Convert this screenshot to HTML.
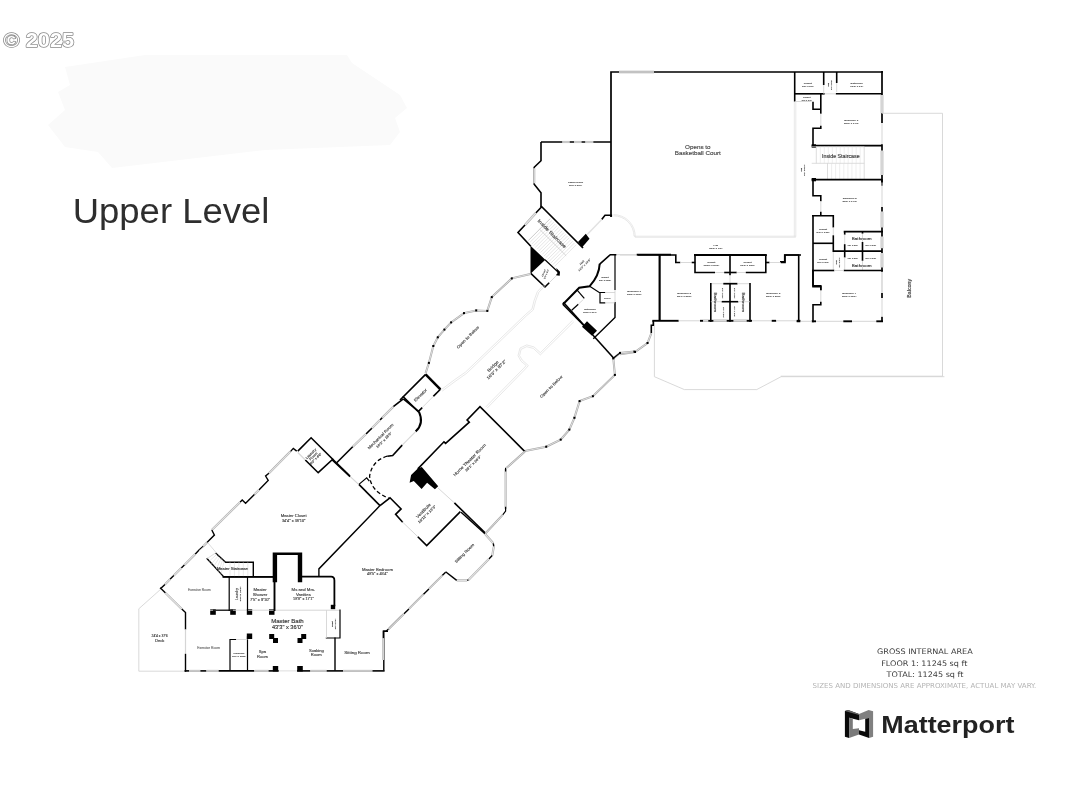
<!DOCTYPE html>
<html lang="en"><head><meta charset="utf-8"><title>Upper Level floor plan</title>
<style>
html,body{margin:0;padding:0;background:#fff;}
body{width:1080px;height:810px;overflow:hidden;position:relative;font-family:"Liberation Sans",sans-serif;}
svg{position:absolute;left:0;top:0;display:block}
svg polyline{fill:none;stroke-linecap:butt;stroke-linejoin:miter}
svg text{font-family:"Liberation Sans",sans-serif}
svg{will-change:transform;opacity:0.999}
</style></head><body>
<svg width="1080" height="810" viewBox="0 0 1080 810">
<rect width="1080" height="810" fill="#fff"/>
<polygon points="65,67 145,55 347,55 352,63 400,95 407,108 395,118 400,132 390,145 265,150 112,168 98,152 65,147 48,125 65,110 58,92 70,85" fill="#fafafa"/>
<g id="plan">
<polyline points="541,142 611,142" stroke="#000" stroke-width="1.6"/>
<polyline points="611,217 611,72 883,72" stroke="#000" stroke-width="1.7"/>
<polyline points="619,72 654,72" stroke="#a6a6a6" stroke-width="2.6"/>
<polyline points="619,72 654,72" stroke="#e4e4e4" stroke-width="1.5"/>
<polyline points="619,72 654,72" stroke="#999" stroke-width="0.6"/>
<polyline points="882,71 882,95" stroke="#000" stroke-width="1.7"/>
<polyline points="882,95 882,113.3" stroke="#a6a6a6" stroke-width="2.6"/>
<polyline points="882,95 882,113.3" stroke="#e4e4e4" stroke-width="1.5"/>
<polyline points="882,113.3 882,123" stroke="#000" stroke-width="1.7"/>
<polyline points="882,123 882,144.2" stroke="#d5d5d5" stroke-width="1"/>
<polyline points="882,144.2 882,150.8" stroke="#000" stroke-width="1.7"/>
<polyline points="882,150.8 882,175" stroke="#a6a6a6" stroke-width="2.6"/>
<polyline points="882,150.8 882,175" stroke="#e4e4e4" stroke-width="1.5"/>
<polyline points="882,175 882,185.8" stroke="#000" stroke-width="1.7"/>
<polyline points="794.7,72 794.7,101.7" stroke="#000" stroke-width="1.6"/>
<polyline points="794.7,93.8 824.7,93.8" stroke="#000" stroke-width="1.6"/>
<polyline points="835.8,93.8 882,93.8" stroke="#000" stroke-width="1.6"/>
<polyline points="823.7,72 823.7,85" stroke="#000" stroke-width="1.6"/>
<polyline points="823.7,85 823.7,93.8" stroke="#cfcfcf" stroke-width="0.8"/>
<polyline points="836.7,72 836.7,83" stroke="#000" stroke-width="1.6"/>
<polyline points="836.7,83 836.7,92" stroke="#cfcfcf" stroke-width="0.8"/>
<polyline points="824.7,93.8 835.8,93.8" stroke="#cfcfcf" stroke-width="0.8"/>
<polyline points="820.8,93.8 820.8,113.7" stroke="#000" stroke-width="1.6"/>
<polyline points="813,101.7 813,109.3 820.8,109.3" stroke="#000" stroke-width="1.6"/>
<polyline points="794.7,101.5 811.7,101.5" stroke="#cfcfcf" stroke-width="0.8"/>
<polyline points="820.8,113.7 820.8,125.8" stroke="#cfcfcf" stroke-width="0.8"/>
<polyline points="820.8,125.8 820.8,128.3 813,128.3 813,146.7" stroke="#000" stroke-width="1.6"/>
<polyline points="811.7,145.7 882,145.7" stroke="#000" stroke-width="1.7"/>
<polygon points="811.7,144.3 816,144.3 816,147.7 811.7,147.7" fill="#000" stroke="none"/>
<polyline points="811.7,146.7 864.2,146.7 864.2,179.2" stroke="#cfcfcf" stroke-width="0.7"/>
<polyline points="811.7,163.3 864.2,163.3" stroke="#cfcfcf" stroke-width="0.7"/>
<polyline points="816.3,146.7 816.3,163.3" stroke="#cfcfcf" stroke-width="0.7"/>
<polyline points="827.5,163.3 827.5,179.2" stroke="#cfcfcf" stroke-width="0.7"/>
<polyline points="820.3,146.7 820.3,163.3" stroke="#dcdcdc" stroke-width="0.5"/>
<polyline points="824.3,146.7 824.3,163.3" stroke="#dcdcdc" stroke-width="0.5"/>
<polyline points="828.3,146.7 828.3,163.3" stroke="#dcdcdc" stroke-width="0.5"/>
<polyline points="832.3,146.7 832.3,163.3" stroke="#dcdcdc" stroke-width="0.5"/>
<polyline points="836.3,146.7 836.3,163.3" stroke="#dcdcdc" stroke-width="0.5"/>
<polyline points="840.2,146.7 840.2,163.3" stroke="#dcdcdc" stroke-width="0.5"/>
<polyline points="844.2,146.7 844.2,163.3" stroke="#dcdcdc" stroke-width="0.5"/>
<polyline points="848.2,146.7 848.2,163.3" stroke="#dcdcdc" stroke-width="0.5"/>
<polyline points="852.2,146.7 852.2,163.3" stroke="#dcdcdc" stroke-width="0.5"/>
<polyline points="856.2,146.7 856.2,163.3" stroke="#dcdcdc" stroke-width="0.5"/>
<polyline points="860.2,146.7 860.2,163.3" stroke="#dcdcdc" stroke-width="0.5"/>
<polyline points="831.6,163.3 831.6,179.2" stroke="#dcdcdc" stroke-width="0.5"/>
<polyline points="835.6,163.3 835.6,179.2" stroke="#dcdcdc" stroke-width="0.5"/>
<polyline points="839.7,163.3 839.7,179.2" stroke="#dcdcdc" stroke-width="0.5"/>
<polyline points="843.8,163.3 843.8,179.2" stroke="#dcdcdc" stroke-width="0.5"/>
<polyline points="847.9,163.3 847.9,179.2" stroke="#dcdcdc" stroke-width="0.5"/>
<polyline points="851.9,163.3 851.9,179.2" stroke="#dcdcdc" stroke-width="0.5"/>
<polyline points="856,163.3 856,179.2" stroke="#dcdcdc" stroke-width="0.5"/>
<polyline points="860.1,163.3 860.1,179.2" stroke="#dcdcdc" stroke-width="0.5"/>
<polyline points="811.7,179.7 882,179.7" stroke="#000" stroke-width="1.7"/>
<polygon points="811.7,178 816,178 816,181.3 811.7,181.3" fill="#000" stroke="none"/>
<polyline points="794.3,101.7 794.3,236.7" stroke="#d9d9d9" stroke-width="0.6"/>
<polyline points="795.8,101.7 795.8,236.7" stroke="#d9d9d9" stroke-width="0.6"/>
<polyline points="882,113.3 942.5,113.3 942.5,376.2 780.8,376.2" stroke="#cfcfcf" stroke-width="0.8"/>
<polyline points="813,179.2 813,195.8 820.8,195.8 820.8,201.2" stroke="#000" stroke-width="1.6"/>
<polyline points="820.8,201.2 820.8,211.7" stroke="#cfcfcf" stroke-width="0.8"/>
<polyline points="820.8,211.7 820.8,215.8" stroke="#000" stroke-width="1.6"/>
<polyline points="812,215.8 833.3,215.8 833.3,227.5" stroke="#000" stroke-width="1.6"/>
<polyline points="833.3,227.5 833.3,235.3" stroke="#cfcfcf" stroke-width="0.8"/>
<polyline points="833.3,235.3 833.3,252" stroke="#000" stroke-width="1.6"/>
<polyline points="833.3,252 833.3,270.5" stroke="#cfcfcf" stroke-width="0.8"/>
<polyline points="813,215.8 813,286.7 820.8,286.7 820.8,290.3" stroke="#000" stroke-width="1.6"/>
<polyline points="813,243.3 833.3,243.3" stroke="#000" stroke-width="1.6"/>
<polyline points="812,270.5 834.3,270.5" stroke="#000" stroke-width="1.6"/>
<polyline points="843.7,231.7 883,231.7" stroke="#000" stroke-width="1.7"/>
<polyline points="844.7,231.7 844.7,234.7" stroke="#000" stroke-width="1.6"/>
<polyline points="844.7,234.7 844.7,244.2" stroke="#cfcfcf" stroke-width="0.8"/>
<polyline points="844.7,244.2 844.7,257.5" stroke="#000" stroke-width="1.6"/>
<polyline points="844.7,257.5 844.7,270" stroke="#cfcfcf" stroke-width="0.8"/>
<polyline points="833.3,251.2 882,251.2" stroke="#000" stroke-width="1.7"/>
<polyline points="862.5,231.7 862.5,233.7" stroke="#000" stroke-width="1.6"/>
<polyline points="862.5,233.7 862.5,242" stroke="#cfcfcf" stroke-width="0.8"/>
<polyline points="862.5,242 862.5,260.8" stroke="#000" stroke-width="1.6"/>
<polyline points="862.5,260.8 862.5,270.5" stroke="#cfcfcf" stroke-width="0.8"/>
<polyline points="843.7,270.5 883,270.5" stroke="#000" stroke-width="1.7"/>
<polyline points="834.3,270.5 843.7,270.5" stroke="#cfcfcf" stroke-width="0.8"/>
<polyline points="882,179.2 882,182.5" stroke="#000" stroke-width="1.7"/>
<polyline points="882,182.5 882,207" stroke="#d5d5d5" stroke-width="1"/>
<polyline points="882,207 882,211.7" stroke="#000" stroke-width="1.7"/>
<polyline points="882,211.7 882,227.5" stroke="#a6a6a6" stroke-width="2.6"/>
<polyline points="882,211.7 882,227.5" stroke="#e4e4e4" stroke-width="1.5"/>
<polyline points="882,227.5 882,236.7" stroke="#000" stroke-width="1.7"/>
<polyline points="882,236.7 882,248.3" stroke="#a6a6a6" stroke-width="2.6"/>
<polyline points="882,236.7 882,248.3" stroke="#e4e4e4" stroke-width="1.5"/>
<polyline points="882,248.3 882,253.3" stroke="#000" stroke-width="1.7"/>
<polyline points="882,253.3 882,267.5" stroke="#a6a6a6" stroke-width="2.6"/>
<polyline points="882,253.3 882,267.5" stroke="#e4e4e4" stroke-width="1.5"/>
<polyline points="882,267.5 882,272" stroke="#000" stroke-width="1.7"/>
<polyline points="882,272 882,293.3" stroke="#d5d5d5" stroke-width="1"/>
<polyline points="780,261.7 784.7,261.7 784.7,255 798.7,255 798.7,322" stroke="#000" stroke-width="1.6"/>
<polyline points="813,270 813,285.8 820.8,285.8 820.8,290.3" stroke="#000" stroke-width="1.6"/>
<polyline points="820.8,290.3 820.8,301.7" stroke="#cfcfcf" stroke-width="0.8"/>
<polyline points="820.8,301.7 820.8,304.7 813,304.7 813,322.3" stroke="#000" stroke-width="1.6"/>
<polyline points="811.7,321.3 816,321.3" stroke="#000" stroke-width="1.9"/>
<polyline points="816,321.3 843.3,321.3" stroke="#d5d5d5" stroke-width="1"/>
<polyline points="843.3,321.3 852,321.3" stroke="#000" stroke-width="1.9"/>
<polyline points="852,321.3 876.3,321.3" stroke="#d5d5d5" stroke-width="1"/>
<polyline points="876.3,321.3 883,321.3" stroke="#000" stroke-width="1.9"/>
<polyline points="882,316.7 882,322" stroke="#000" stroke-width="1.7"/>
<polyline points="882,293 882,298" stroke="#000" stroke-width="1.7"/>
<polyline points="882,271.7 882,293" stroke="#d5d5d5" stroke-width="1"/>
<polyline points="882,298 882,316.7" stroke="#d5d5d5" stroke-width="1"/>
<polyline points="796.7,321.3 800.3,321.3" stroke="#000" stroke-width="1.9"/>
<polyline points="800.3,321.3 811.7,321.3" stroke="#d5d5d5" stroke-width="1"/>
<polyline points="654.4,322.2 654.4,376.7 684.4,389.6 756.7,389.6 781.1,376.7 944.4,376.7" stroke="#cfcfcf" stroke-width="0.8"/>
<polyline points="620,255 637.5,255" stroke="#d5d5d5" stroke-width="1"/>
<polyline points="637.5,255 675.8,255 675.8,262.5 680.3,262.5" stroke="#000" stroke-width="1.6"/>
<polyline points="680.3,262.5 691.7,262.5" stroke="#cfcfcf" stroke-width="0.8"/>
<polyline points="691.7,262.5 695.3,262.5" stroke="#000" stroke-width="1.6"/>
<polyline points="694,255 766.8,255" stroke="#000" stroke-width="1.9"/>
<polyline points="695,255 695,272.5 715,272.5" stroke="#000" stroke-width="1.6"/>
<polyline points="715,272.5 724.2,272.5" stroke="#cfcfcf" stroke-width="0.8"/>
<polyline points="724.2,272.5 736.7,272.5" stroke="#000" stroke-width="1.6"/>
<polyline points="736.7,272.5 745.8,272.5" stroke="#cfcfcf" stroke-width="0.8"/>
<polyline points="745.8,272.5 765.8,272.5 765.8,255" stroke="#000" stroke-width="1.6"/>
<polyline points="730,255 730,275.3" stroke="#000" stroke-width="1.6"/>
<polyline points="730,275.3 730,283.3" stroke="#cfcfcf" stroke-width="0.8"/>
<polyline points="765.5,262.5 769.5,262.5" stroke="#000" stroke-width="1.6"/>
<polyline points="769.5,262.5 780.8,262.5" stroke="#cfcfcf" stroke-width="0.8"/>
<polyline points="780.8,262.5 785,262.5 785,255 801,255" stroke="#000" stroke-width="1.6"/>
<polyline points="659.5,255 659.5,320.8" stroke="#000" stroke-width="1.7"/>
<polyline points="710.8,283.7 723.3,283.7" stroke="#cfcfcf" stroke-width="0.8"/>
<polyline points="723.3,283.7 737.5,283.7" stroke="#000" stroke-width="1.7"/>
<polyline points="737.5,283.7 750,283.7" stroke="#cfcfcf" stroke-width="0.8"/>
<polyline points="710.8,283 710.8,321.7" stroke="#000" stroke-width="1.6"/>
<polyline points="750,283 750,321.7" stroke="#000" stroke-width="1.6"/>
<polyline points="730,283 730,321.7" stroke="#000" stroke-width="1.6"/>
<polyline points="710.8,301.7 721.7,301.7" stroke="#cfcfcf" stroke-width="0.8"/>
<polyline points="721.7,301.7 738.3,301.7" stroke="#000" stroke-width="1.6"/>
<polyline points="738.3,301.7 750,301.7" stroke="#cfcfcf" stroke-width="0.8"/>
<polyline points="652.3,320.8 678.7,320.8" stroke="#000" stroke-width="1.9"/>
<polyline points="678.7,320.8 700,320.8" stroke="#d5d5d5" stroke-width="1"/>
<polyline points="700,320.8 703.3,320.8" stroke="#000" stroke-width="1.9"/>
<polyline points="703.3,320.8 708.3,320.8" stroke="#a6a6a6" stroke-width="2.4"/>
<polyline points="703.3,320.8 708.3,320.8" stroke="#e4e4e4" stroke-width="1.3"/>
<polyline points="708.3,320.8 713.7,320.8" stroke="#000" stroke-width="1.9"/>
<polyline points="713.7,320.8 726.7,320.8" stroke="#a6a6a6" stroke-width="2.4"/>
<polyline points="713.7,320.8 726.7,320.8" stroke="#e4e4e4" stroke-width="1.3"/>
<polyline points="726.7,320.8 733.7,320.8" stroke="#000" stroke-width="1.9"/>
<polyline points="733.7,320.8 746.7,320.8" stroke="#a6a6a6" stroke-width="2.4"/>
<polyline points="733.7,320.8 746.7,320.8" stroke="#e4e4e4" stroke-width="1.3"/>
<polyline points="746.7,320.8 752,320.8" stroke="#000" stroke-width="1.9"/>
<polyline points="752,320.8 771.7,320.8" stroke="#d5d5d5" stroke-width="1"/>
<polyline points="771.7,320.8 776.2,320.8" stroke="#000" stroke-width="1.9"/>
<polyline points="776.2,320.8 796.7,320.8" stroke="#d5d5d5" stroke-width="1"/>
<polyline points="796.7,320.8 800.3,320.8" stroke="#000" stroke-width="1.9"/>
<polyline points="653.3,320.8 653.3,325.3 651.3,325.3 651.3,333.3" stroke="#000" stroke-width="1.6"/>
<polyline points="651.3,333.3 647.5,343 635,352 620,354.2" stroke="#a6a6a6" stroke-width="2"/>
<polyline points="651.3,333.3 647.5,343 635,352 620,354.2" stroke="#e4e4e4" stroke-width="0.9"/>
<rect x="646.5" y="342" width="2" height="2" fill="#000" stroke="none"/>
<rect x="634" y="351" width="2" height="2" fill="#000" stroke="none"/>
<polyline points="541,142 541,160.7 534.2,167.3 534.2,184.3 541,192.7 541,207" stroke="#000" stroke-width="1.6"/>
<polyline points="534.2,168.3 534.2,183.3" stroke="#a6a6a6" stroke-width="2.1"/>
<polyline points="534.2,168.3 534.2,183.3" stroke="#e4e4e4" stroke-width="1.1"/>
<polyline points="562.2,142 569.7,142" stroke="#a6a6a6" stroke-width="2.1"/>
<polyline points="562.2,142 569.7,142" stroke="#e4e4e4" stroke-width="1.1"/>
<polyline points="574,142 581.5,142" stroke="#a6a6a6" stroke-width="2.1"/>
<polyline points="574,142 581.5,142" stroke="#e4e4e4" stroke-width="1.1"/>
<polyline points="585.2,142 593.3,142" stroke="#a6a6a6" stroke-width="2.1"/>
<polyline points="585.2,142 593.3,142" stroke="#e4e4e4" stroke-width="1.1"/>
<polyline points="611.3,216.7 611.3,215.3 605,215.3 601.7,219.5" stroke="#000" stroke-width="1.6"/>
<polyline points="601.7,219.5 587.2,234.5" stroke="#e2e2e2" stroke-width="1.5"/>
<polygon points="585.8,233.8 589.5,238.7 582.2,247.2 578,242" fill="#000" stroke="none"/>
<path d="M613.5,215.8 A20.5,20.5 0 0 1 634,236.2 L795.8,236.2" fill="none" stroke="#d9d9d9" stroke-width="0.6"/>
<path d="M613.5,214.6 A21.7,21.7 0 0 1 635.2,237.3 L795.8,237.3" fill="none" stroke="#d9d9d9" stroke-width="0.6"/>
<polyline points="541,206 583,248" stroke="#000" stroke-width="1.7"/>
<polyline points="541.7,206.7 535.8,213" stroke="#000" stroke-width="1.6"/>
<polyline points="535.8,213 525,225" stroke="#a6a6a6" stroke-width="2.4"/>
<polyline points="535.8,213 525,225" stroke="#e4e4e4" stroke-width="1.3"/>
<polyline points="525,225 518,232.5 530.8,246.3" stroke="#000" stroke-width="1.6"/>
<polygon points="530.5,245.7 530.5,273.7 545.3,259.7" fill="#000" stroke="none"/>
<polyline points="530.8,273.3 545,287 549.2,282.8" stroke="#000" stroke-width="1.6"/>
<polyline points="549.2,282.8 555.8,276.2" stroke="#cfcfcf" stroke-width="0.8"/>
<polyline points="545,259.7 558,272" stroke="#000" stroke-width="1.2"/>
<polygon points="556.3,268 560,271.7 559.7,275.8 555.8,275.3 557.5,273.3" fill="#000" stroke="none"/>
<polyline points="550.2,218.7 528.4,240.5" stroke="#cdcdcd" stroke-width="0.5"/>
<polyline points="551.9,220.5 530.1,242.2" stroke="#cdcdcd" stroke-width="0.5"/>
<polyline points="553.7,222.2 531.9,244" stroke="#cdcdcd" stroke-width="0.5"/>
<polyline points="555.4,223.9 533.6,245.7" stroke="#cdcdcd" stroke-width="0.5"/>
<polyline points="557.1,225.7 535.3,247.4" stroke="#cdcdcd" stroke-width="0.5"/>
<polyline points="558.8,227.4 537.1,249.2" stroke="#cdcdcd" stroke-width="0.5"/>
<polyline points="560.6,229.1 538.8,250.9" stroke="#cdcdcd" stroke-width="0.5"/>
<polyline points="562.3,230.8 540.5,252.6" stroke="#cdcdcd" stroke-width="0.5"/>
<polyline points="564,232.6 542.3,254.4" stroke="#cdcdcd" stroke-width="0.5"/>
<polyline points="565.8,234.3 544,256.1" stroke="#cdcdcd" stroke-width="0.5"/>
<polyline points="567.5,236 545.7,257.8" stroke="#cdcdcd" stroke-width="0.5"/>
<polyline points="569.2,237.8 547.5,259.6" stroke="#cdcdcd" stroke-width="0.5"/>
<polyline points="571,239.5 549.2,261.3" stroke="#cdcdcd" stroke-width="0.5"/>
<polyline points="572.7,241.2 550.9,263" stroke="#cdcdcd" stroke-width="0.5"/>
<polyline points="574.4,243 552.7,264.8" stroke="#cdcdcd" stroke-width="0.5"/>
<polyline points="576.2,244.7 554.4,266.5" stroke="#cdcdcd" stroke-width="0.5"/>
<polyline points="539.6,229.3 566.2,255.8" stroke="#bdbdbd" stroke-width="0.6"/>
<polyline points="550.2,218.7 528.4,240.5" stroke="#bdbdbd" stroke-width="0.6"/>
<polyline points="615.8,254.7 636.7,254.7" stroke="#d5d5d5" stroke-width="1"/>
<polyline points="636.7,254.7 671,254.7" stroke="#000" stroke-width="1.7"/>
<polyline points="616.3,254.7 610.3,254.7 599.7,264.2" stroke="#000" stroke-width="1.6"/>
<path d="M599.7,263.8 Q599.2,275.8 589.7,286.2 L579.2,287.8 L562.8,304.5" fill="none" stroke="#000" stroke-width="2"/>
<polyline points="562.8,304.2 592,333.7" stroke="#000" stroke-width="1.6"/>
<polyline points="615,254.7 615,290" stroke="#000" stroke-width="1.2"/>
<polyline points="615,290 615,302" stroke="#cfcfcf" stroke-width="0.8"/>
<polyline points="615,302 615,317.5 593.3,338.7" stroke="#000" stroke-width="1.4"/>
<polyline points="589.7,286.2 599.2,292.5 605.3,292.5" stroke="#000" stroke-width="1.2"/>
<polyline points="605.3,292.5 615,292.5" stroke="#cfcfcf" stroke-width="0.8"/>
<polyline points="600,292.5 600,302.8 605.3,302.8" stroke="#000" stroke-width="1.2"/>
<polyline points="605.3,302.8 615,302.8" stroke="#cfcfcf" stroke-width="0.8"/>
<polyline points="576.7,289.7 584.3,298.3" stroke="#000" stroke-width="1.2"/>
<polyline points="571.7,310.3 578.3,304.2" stroke="#000" stroke-width="1.2"/>
<polyline points="578.3,304.2 583.3,299.5" stroke="#cfcfcf" stroke-width="0.8"/>
<polygon points="587,321.3 597,330.8 592,335.8 582,326.7" fill="#000" stroke="none"/>
<polyline points="659.7,254.7 659.7,320.3" stroke="#000" stroke-width="1.7"/>
<polyline points="530.4,274 511.8,278.4 491.8,297.1 487.3,310.9 476.2,310.4 464,313.1 451.1,322.4 444.4,329.6 437.8,337.3 433.3,346 428.9,362.9 425.6,373.3" stroke="#a6a6a6" stroke-width="2"/>
<polyline points="530.4,274 511.8,278.4 491.8,297.1 487.3,310.9 476.2,310.4 464,313.1 451.1,322.4 444.4,329.6 437.8,337.3 433.3,346 428.9,362.9 425.6,373.3" stroke="#e4e4e4" stroke-width="0.9"/>
<rect x="510.8" y="277.4" width="2" height="2" fill="#000" stroke="none"/>
<rect x="490.8" y="296.1" width="2" height="2" fill="#000" stroke="none"/>
<rect x="486.3" y="309.9" width="2" height="2" fill="#000" stroke="none"/>
<rect x="475.2" y="309.4" width="2" height="2" fill="#000" stroke="none"/>
<rect x="463" y="312.1" width="2" height="2" fill="#000" stroke="none"/>
<rect x="450.1" y="321.4" width="2" height="2" fill="#000" stroke="none"/>
<rect x="443.4" y="328.6" width="2" height="2" fill="#000" stroke="none"/>
<rect x="436.8" y="336.3" width="2" height="2" fill="#000" stroke="none"/>
<rect x="432.3" y="345" width="2" height="2" fill="#000" stroke="none"/>
<rect x="427.9" y="361.9" width="2" height="2" fill="#000" stroke="none"/>
<polyline points="425.6,374.4 440.4,389.3" stroke="#000" stroke-width="2.5"/>
<polyline points="440.4,389.3 433.3,396.4" stroke="#000" stroke-width="1.6"/>
<polyline points="433.3,396.4 422.2,407.6" stroke="#cfcfcf" stroke-width="0.8"/>
<polyline points="422.2,407.6 418.2,411.6 403.3,396.7 425.6,374.4" stroke="#000" stroke-width="1.6"/>
<polyline points="403.3,396.7 400,400" stroke="#000" stroke-width="1.6"/>
<path d="M544.9,286.2 L538.9,292.2 L535.6,301.1 L533.3,310 L526.7,315.6 L466.7,373.3 L455.6,381.1 L442.2,391.1" fill="none" stroke="#d8d8d8" stroke-width="0.6"/>
<path d="M543.6,284.9 L537.3,291.6 L534,300.7 L532,308.9 L525.6,314.4 L465.6,372 L454.4,379.8 L441.1,389.8" fill="none" stroke="#d8d8d8" stroke-width="0.6"/>
<path d="M573.8,321.8 L540.4,354.9 L533.3,348.4 L526.7,346.7 L521.1,349.3 L519.6,355.6 L522.2,360 L528.4,365.6 L524.4,370 L487.1,408.2" fill="none" stroke="#d8d8d8" stroke-width="0.6"/>
<path d="M572.4,320.4 L540.4,352.7 L534,346.9 L526.7,344.9 L520,348 L518,355.6 L520.9,361.1 L526.2,365.6 L523.1,368.9 L485.8,406.9" fill="none" stroke="#d8d8d8" stroke-width="0.6"/>
<polyline points="634.4,351.6 620,352.9 613.3,358.4 614.9,374.9 592.9,396.2 579.6,401.1 574.4,417.8 569.3,429.6 560.7,439.6 546.2,446.7 524.9,451.1" stroke="#a6a6a6" stroke-width="2"/>
<polyline points="634.4,351.6 620,352.9 613.3,358.4 614.9,374.9 592.9,396.2 579.6,401.1 574.4,417.8 569.3,429.6 560.7,439.6 546.2,446.7 524.9,451.1" stroke="#e4e4e4" stroke-width="0.9"/>
<rect x="633.4" y="350.6" width="2" height="2" fill="#000" stroke="none"/>
<rect x="619" y="351.9" width="2" height="2" fill="#000" stroke="none"/>
<rect x="612.3" y="357.4" width="2" height="2" fill="#000" stroke="none"/>
<rect x="613.9" y="373.9" width="2" height="2" fill="#000" stroke="none"/>
<rect x="591.9" y="395.2" width="2" height="2" fill="#000" stroke="none"/>
<rect x="578.6" y="400.1" width="2" height="2" fill="#000" stroke="none"/>
<rect x="573.4" y="416.8" width="2" height="2" fill="#000" stroke="none"/>
<rect x="568.3" y="428.6" width="2" height="2" fill="#000" stroke="none"/>
<rect x="559.7" y="438.6" width="2" height="2" fill="#000" stroke="none"/>
<rect x="545.2" y="445.7" width="2" height="2" fill="#000" stroke="none"/>
<polyline points="613.3,358.2 620,352.9" stroke="#000" stroke-width="1.2"/>
<polyline points="563.3,302.2 613.8,358.2" stroke="#000" stroke-width="1.6"/>
<polyline points="403.3,398.9 393.3,406.7" stroke="#000" stroke-width="1.6"/>
<polyline points="393.3,406.7 382.2,417.8" stroke="#a6a6a6" stroke-width="2.1"/>
<polyline points="393.3,406.7 382.2,417.8" stroke="#e4e4e4" stroke-width="1.1"/>
<polyline points="382.2,417.8 380,420" stroke="#000" stroke-width="1.6"/>
<polyline points="380,420 371.8,428.2" stroke="#a6a6a6" stroke-width="2.1"/>
<polyline points="380,420 371.8,428.2" stroke="#e4e4e4" stroke-width="1.1"/>
<polyline points="371.8,428.2 366,434" stroke="#000" stroke-width="1.6"/>
<polyline points="366,434 352.7,446.7" stroke="#a6a6a6" stroke-width="2.1"/>
<polyline points="366,434 352.7,446.7" stroke="#e4e4e4" stroke-width="1.1"/>
<polyline points="352.7,446.7 336.7,462.7" stroke="#000" stroke-width="1.6"/>
<polyline points="403.3,398.9 418.9,411.6" stroke="#000" stroke-width="1.6"/>
<polyline points="332.2,458.9 350,476" stroke="#000" stroke-width="1.6"/>
<polyline points="350,476 358.9,484.4" stroke="#cfcfcf" stroke-width="0.8"/>
<polyline points="358.9,484.4 380,505.6" stroke="#000" stroke-width="1.6"/>
<polyline points="358.9,484.4 366.7,477.8 369.3,481.1" stroke="#000" stroke-width="1.2"/>
<path d="M418.9,411.6 Q424.4,423.3 415.6,431.6" fill="none" stroke="#000" stroke-width="2"/>
<polyline points="415.6,431.6 402.2,445.1" stroke="#d8d8d8" stroke-width="1.2"/>
<polyline points="402.2,445.1 392.7,455.6 387.3,456.2" stroke="#000" stroke-width="1.6"/>
<path d="M387.3,456.2 Q372.2,460.4 369.6,476 Q370.7,491.1 388.9,498.2" fill="none" stroke="#000" stroke-width="1.3" stroke-dasharray="4 2.5"/>
<polyline points="380,505.6 390,497.8 401.1,508.9 395.6,514.4 402.7,522.2" stroke="#000" stroke-width="1.6"/>
<polyline points="402.7,522.2 417.8,536.7" stroke="#d8d8d8" stroke-width="1"/>
<polyline points="417.8,536.7 426.7,545.6 460.4,511.6" stroke="#000" stroke-width="1.6"/>
<polyline points="297.8,451.1 311.1,437.8 332.7,459.3 318.2,472.7 305.3,460" stroke="#000" stroke-width="1.6"/>
<polyline points="305.3,460 297.8,452.4" stroke="#dadada" stroke-width="1.4"/>
<polyline points="524.9,451.6 480,406.7 467.1,420 469.3,422.2 445.6,443.3 444,441.8 417.8,468.9" stroke="#000" stroke-width="1.6"/>
<polygon points="417.8,468.4 421.8,467.1 438.2,486.2 434.9,489.3 427.1,482.7 421.6,488.9 413.8,481.1 409.6,482.7 411.1,475.1" fill="#000" stroke="none"/>
<polyline points="437.8,487.8 454.4,502.9" stroke="#d8d8d8" stroke-width="1"/>
<polyline points="454.4,502.9 485.6,533.3" stroke="#000" stroke-width="1.6"/>
<polyline points="524.9,451.6 506.7,467.8" stroke="#a6a6a6" stroke-width="2"/>
<polyline points="524.9,451.6 506.7,467.8" stroke="#e4e4e4" stroke-width="0.9"/>
<polyline points="505.6,468.9 505.6,508.9" stroke="#a6a6a6" stroke-width="2"/>
<polyline points="505.6,468.9 505.6,508.9" stroke="#e4e4e4" stroke-width="0.9"/>
<polyline points="505.6,467.8 505.6,471.6" stroke="#000" stroke-width="1.2"/>
<polyline points="505.6,506.7 505.6,511.1 502.7,514.9" stroke="#000" stroke-width="1.2"/>
<polyline points="502.7,514.9 485.6,533.3" stroke="#a6a6a6" stroke-width="2"/>
<polyline points="502.7,514.9 485.6,533.3" stroke="#e4e4e4" stroke-width="0.9"/>
<polyline points="296.7,451.1 293.3,448.4 290.4,451.6" stroke="#000" stroke-width="1.4"/>
<polyline points="290.4,451.6 268.9,473.3" stroke="#a6a6a6" stroke-width="2.1"/>
<polyline points="290.4,451.6 268.9,473.3" stroke="#e4e4e4" stroke-width="1.1"/>
<polyline points="268.9,473.3 265.6,476 268.2,480.4 258.9,490" stroke="#000" stroke-width="1.4"/>
<polyline points="258.9,490 254.4,494.4" stroke="#a6a6a6" stroke-width="2.1"/>
<polyline points="258.9,490 254.4,494.4" stroke="#e4e4e4" stroke-width="1.1"/>
<polyline points="254.4,494.4 245.6,503.3 242.2,500 240,502.2" stroke="#000" stroke-width="1.4"/>
<polyline points="240,502.2 211.8,530" stroke="#a6a6a6" stroke-width="2.1"/>
<polyline points="240,502.2 211.8,530" stroke="#e4e4e4" stroke-width="1.1"/>
<polyline points="211.8,530 214.4,535.1 206.7,542.7" stroke="#000" stroke-width="1.4"/>
<polyline points="206.7,542.7 203.3,546.2" stroke="#a6a6a6" stroke-width="2.1"/>
<polyline points="206.7,542.7 203.3,546.2" stroke="#e4e4e4" stroke-width="1.1"/>
<polyline points="203.3,546.2 199.3,549.8" stroke="#000" stroke-width="1.4"/>
<polyline points="199.3,549.8 195.1,554.2" stroke="#000" stroke-width="1.4"/>
<polyline points="195.1,554.2 184.4,564.9" stroke="#a6a6a6" stroke-width="2.1"/>
<polyline points="195.1,554.2 184.4,564.9" stroke="#e4e4e4" stroke-width="1.1"/>
<polyline points="184.4,564.9 181.3,568" stroke="#000" stroke-width="1.4"/>
<polyline points="181.3,568 173.8,575.6" stroke="#a6a6a6" stroke-width="2.1"/>
<polyline points="181.3,568 173.8,575.6" stroke="#e4e4e4" stroke-width="1.1"/>
<polyline points="173.8,575.6 170,579.3" stroke="#000" stroke-width="1.4"/>
<polyline points="170,579.3 164.9,584.4" stroke="#a6a6a6" stroke-width="2.1"/>
<polyline points="170,579.3 164.9,584.4" stroke="#e4e4e4" stroke-width="1.1"/>
<polyline points="164.9,584.4 160.2,589.1" stroke="#000" stroke-width="1.4"/>
<polyline points="332.2,460 350,476.7" stroke="#000" stroke-width="1.4"/>
<polyline points="350,476.7 358.9,484.9" stroke="#cfcfcf" stroke-width="0.8"/>
<polyline points="380,505.6 318.9,568.9 318.9,576.7" stroke="#000" stroke-width="1.4"/>
<path d="M300,576.7 L331.1,576.7 Q334.4,576.7 334.4,580.4 L334.4,606.2" fill="none" stroke="#000" stroke-width="1.8"/>
<polyline points="223.3,576.7 274.4,576.7" stroke="#000" stroke-width="1.4"/>
<polygon points="272.7,552.4 302.2,552.4 302.2,582.2 297.8,582.2 297.8,555.1 277.1,555.1 277.1,582.2 272.7,582.2" fill="#000" stroke="none"/>
<polyline points="206.7,558.2 223.8,576.9" stroke="#000" stroke-width="1.4"/>
<polyline points="215.6,552.9 225.6,562.2 253.3,562.2 253.3,576.7" stroke="#000" stroke-width="1.4"/>
<polyline points="198.9,551.1 207.8,542.7 216.7,553.3" stroke="#cfcfcf" stroke-width="0.7"/>
<polyline points="206.7,558.9 215.6,552.9" stroke="#cfcfcf" stroke-width="0.7"/>
<polyline points="209,561.4 217,554.2" stroke="#d5d5d5" stroke-width="0.5"/>
<polyline points="211.4,564 218.4,555.6" stroke="#d5d5d5" stroke-width="0.5"/>
<polyline points="213.8,566.5 219.8,556.9" stroke="#d5d5d5" stroke-width="0.5"/>
<polyline points="216.2,569 221.3,558.2" stroke="#d5d5d5" stroke-width="0.5"/>
<polyline points="218.6,571.6 222.7,559.6" stroke="#d5d5d5" stroke-width="0.5"/>
<polyline points="221,574.1 224.1,560.9" stroke="#d5d5d5" stroke-width="0.5"/>
<polyline points="230,562.2 230,576.7" stroke="#d5d5d5" stroke-width="0.5"/>
<polyline points="234.4,562.2 234.4,576.7" stroke="#d5d5d5" stroke-width="0.5"/>
<polyline points="238.9,562.2 238.9,576.7" stroke="#d5d5d5" stroke-width="0.5"/>
<polyline points="243.3,562.2 243.3,576.7" stroke="#d5d5d5" stroke-width="0.5"/>
<polyline points="247.8,562.2 247.8,576.7" stroke="#d5d5d5" stroke-width="0.5"/>
<polyline points="160.2,587.8 165.5,593" stroke="#000" stroke-width="1.4"/>
<polyline points="165.5,593 181.8,609" stroke="#a6a6a6" stroke-width="2.1"/>
<polyline points="165.5,593 181.8,609" stroke="#e4e4e4" stroke-width="1.1"/>
<polyline points="181.8,609 185.5,612.5 185.5,629.5" stroke="#000" stroke-width="1.4"/>
<polyline points="185.5,629.5 185.5,653.8" stroke="#d5d5d5" stroke-width="1.2"/>
<polyline points="185.5,653.8 185.5,672" stroke="#000" stroke-width="1.4"/>
<polyline points="161.2,588.8 138.8,608.8 138.8,671.2 185.5,671.2" stroke="#cfcfcf" stroke-width="0.8"/>
<polyline points="184.5,670.9 189.2,670.9" stroke="#000" stroke-width="1.6"/>
<polyline points="189.2,670.9 200.4,670.9" stroke="#a6a6a6" stroke-width="2"/>
<polyline points="189.2,670.9 200.4,670.9" stroke="#e4e4e4" stroke-width="0.9"/>
<polyline points="200.4,670.9 206.5,670.9" stroke="#000" stroke-width="1.6"/>
<polyline points="206.5,670.9 218.7,670.9" stroke="#a6a6a6" stroke-width="2"/>
<polyline points="206.5,670.9 218.7,670.9" stroke="#e4e4e4" stroke-width="0.9"/>
<polyline points="218.7,670.9 254.4,670.9" stroke="#000" stroke-width="1.6"/>
<polyline points="254.4,670.9 268.6,670.9" stroke="#a6a6a6" stroke-width="2"/>
<polyline points="254.4,670.9 268.6,670.9" stroke="#e4e4e4" stroke-width="0.9"/>
<polyline points="268.6,670.9 278.8,670.9" stroke="#000" stroke-width="1.6"/>
<polyline points="278.8,670.9 297.1,670.9" stroke="#dddddd" stroke-width="1"/>
<polyline points="297.1,670.9 310.4,670.9" stroke="#000" stroke-width="1.6"/>
<polyline points="310.4,670.9 326.7,670.9" stroke="#a6a6a6" stroke-width="2"/>
<polyline points="310.4,670.9 326.7,670.9" stroke="#e4e4e4" stroke-width="0.9"/>
<polyline points="326.7,670.9 343,670.9" stroke="#000" stroke-width="1.6"/>
<polyline points="343,670.9 372.5,670.9" stroke="#a6a6a6" stroke-width="2"/>
<polyline points="343,670.9 372.5,670.9" stroke="#e4e4e4" stroke-width="0.9"/>
<polyline points="372.5,670.9 384.6,670.9" stroke="#000" stroke-width="1.6"/>
<polyline points="383.8,670.5 383.8,631.2 388,631.2" stroke="#000" stroke-width="1.4"/>
<polyline points="388.8,628 401.2,615.8" stroke="#d5d5d5" stroke-width="1.2"/>
<polygon points="210.2,609.2 215.8,609.2 215.8,614.8 210.2,614.8" fill="#000" stroke="none"/>
<polygon points="230.2,609.2 235.8,609.2 235.8,614.8 230.2,614.8" fill="#000" stroke="none"/>
<polygon points="246.8,609.2 252.2,609.2 252.2,614.8 246.8,614.8" fill="#000" stroke="none"/>
<polygon points="269,609.2 274.5,609.2 274.5,614.8 269,614.8" fill="#000" stroke="none"/>
<polygon points="246.8,633.5 252.2,633.5 252.2,639 246.8,639" fill="#000" stroke="none"/>
<polygon points="272.8,666 278.2,666 278.2,671.5 272.8,671.5" fill="#000" stroke="none"/>
<polygon points="297.2,666 302.8,666 302.8,671.5 297.2,671.5" fill="#000" stroke="none"/>
<polygon points="330.8,604.8 335.2,604.8 335.2,609.2 330.8,609.2" fill="#000" stroke="none"/>
<polygon points="269.2,634 274.2,634 274.2,638 278,638 278,643 273,643 273,639 269.2,639" fill="#000" stroke="none"/>
<polygon points="306.2,634 301.2,634 301.2,638 297.5,638 297.5,643 302.5,643 302.5,639 306.2,639" fill="#000" stroke="none"/>
<polyline points="210,610.2 340,610.2" stroke="#d5d5d5" stroke-width="1"/>
<polyline points="229.2,577 229.2,611" stroke="#000" stroke-width="1.2"/>
<polyline points="247.5,577 247.5,611" stroke="#000" stroke-width="1.2"/>
<polyline points="274.5,580 274.5,611" stroke="#000" stroke-width="1.9"/>
<polyline points="213,610.2 233,610.2" stroke="#000" stroke-width="1.2"/>
<polyline points="222.5,577 274.5,577" stroke="#000" stroke-width="1.4"/>
<polyline points="335,637.5 335,670.5" stroke="#000" stroke-width="1.4"/>
<polyline points="340,609.5 340,638 325.8,638" stroke="#000" stroke-width="1.2"/>
<polyline points="326.5,610.2 326.5,638" stroke="#cfcfcf" stroke-width="0.8"/>
<polyline points="247.5,636.2 247.5,670.5" stroke="#000" stroke-width="1.2"/>
<polyline points="230,670.5 230,639.5 236.2,639.5" stroke="#000" stroke-width="1.2"/>
<polyline points="236.2,639.5 247.5,639.5" stroke="#cfcfcf" stroke-width="0.8"/>
<polyline points="445.6,572.2 442.2,575.6" stroke="#000" stroke-width="1.4"/>
<polyline points="442.2,575.6 428.9,588.9" stroke="#a6a6a6" stroke-width="2"/>
<polyline points="442.2,575.6 428.9,588.9" stroke="#e4e4e4" stroke-width="0.9"/>
<polyline points="428.9,588.9 423.3,594.4" stroke="#000" stroke-width="1.4"/>
<polyline points="423.3,594.4 408.9,608.9" stroke="#a6a6a6" stroke-width="2"/>
<polyline points="423.3,594.4 408.9,608.9" stroke="#e4e4e4" stroke-width="0.9"/>
<polyline points="408.9,608.9 404,613.8" stroke="#000" stroke-width="1.4"/>
<polyline points="404,613.8 388.4,629.3" stroke="#a6a6a6" stroke-width="2"/>
<polyline points="404,613.8 388.4,629.3" stroke="#e4e4e4" stroke-width="0.9"/>
<polyline points="388.4,629.3 386.2,631.1 383.3,631.1 383.3,638.2" stroke="#000" stroke-width="1.4"/>
<polyline points="383.3,638.2 383.3,660" stroke="#a6a6a6" stroke-width="2"/>
<polyline points="383.3,638.2 383.3,660" stroke="#e4e4e4" stroke-width="0.9"/>
<polyline points="461.1,512.2 484.9,533.8" stroke="#000" stroke-width="1.4"/>
<polyline points="484.9,533.8 493.3,543.3" stroke="#a6a6a6" stroke-width="2.1"/>
<polyline points="484.9,533.8 493.3,543.3" stroke="#e4e4e4" stroke-width="1.1"/>
<polyline points="493.3,543.3 493.8,546.7" stroke="#000" stroke-width="1.4"/>
<polyline points="493.8,546.7 492.2,555.6" stroke="#a6a6a6" stroke-width="2.1"/>
<polyline points="493.8,546.7 492.2,555.6" stroke="#e4e4e4" stroke-width="1.1"/>
<polyline points="492.2,555.6 488.9,558.9" stroke="#000" stroke-width="1.4"/>
<polyline points="488.9,558.9 468.4,580" stroke="#a6a6a6" stroke-width="2.1"/>
<polyline points="488.9,558.9 468.4,580" stroke="#e4e4e4" stroke-width="1.1"/>
<polyline points="468.4,580 467.1,580.4" stroke="#000" stroke-width="1.4"/>
<polyline points="467.1,580.4 456.7,580.4" stroke="#a6a6a6" stroke-width="2.1"/>
<polyline points="467.1,580.4 456.7,580.4" stroke="#e4e4e4" stroke-width="1.1"/>
<polyline points="456.7,580.4 445.6,571.8" stroke="#000" stroke-width="1.4"/>
<g transform="translate(807.8 82.8)" fill="#505050" stroke="#505050" stroke-width="1.1" text-anchor="middle"><text transform="translate(0 0.85) scale(0.1180 0.1)" font-size="24.2">Closet</text><text transform="translate(0 3.89) scale(0.1180 0.1)" font-size="22.5">8'5&quot; x 6'0&quot;</text></g>
<g transform="translate(828.3 85) rotate(-90)" fill="#505050" stroke="#505050" stroke-width="1.1" text-anchor="middle"><text transform="translate(0 0.74) scale(0.1180 0.1)" font-size="21.2">Hall</text><text transform="translate(0 3.68) scale(0.1180 0.1)" font-size="19.5">3'0&quot; x 6'2&quot;</text></g>
<g transform="translate(856.7 82.8)" fill="#505050" stroke="#505050" stroke-width="1.1" text-anchor="middle"><text transform="translate(0 0.85) scale(0.1180 0.1)" font-size="24.2">Bathroom</text><text transform="translate(0 3.89) scale(0.1180 0.1)" font-size="22.5">13'6&quot; x 6'1&quot;</text></g>
<g transform="translate(806.7 97)" fill="#505050" stroke="#505050" stroke-width="1.1" text-anchor="middle"><text transform="translate(0 0.77) scale(0.1180 0.1)" font-size="22.0">Closet</text><text transform="translate(0 3.61) scale(0.1180 0.1)" font-size="20.3">7'9&quot; x 2'4&quot;</text></g>
<g transform="translate(851.3 120)" fill="#505050" stroke="#505050" stroke-width="1.1" text-anchor="middle"><text transform="translate(0 0.85) scale(0.1180 0.1)" font-size="24.2">Bedroom 6</text><text transform="translate(0 3.89) scale(0.1180 0.1)" font-size="22.5">20'0&quot; x 14'3&quot;</text></g>
<g transform="translate(840.8 156.2)" fill="#3c3c3c" stroke="#3c3c3c" stroke-width="1.4" text-anchor="middle"><text transform="translate(0 1.61) scale(0.1150 0.1)" font-size="46.1">Inside Staircase</text></g>
<g transform="translate(801.6 170) rotate(-90)" fill="#505050" stroke="#505050" stroke-width="1.1" text-anchor="middle"><text transform="translate(0 0.74) scale(0.1180 0.1)" font-size="21.2">Hall</text><text transform="translate(0 3.68) scale(0.1180 0.1)" font-size="19.5">6'1&quot; x 6'10&quot;</text></g>
<g transform="translate(849.7 197.8)" fill="#505050" stroke="#505050" stroke-width="1.1" text-anchor="middle"><text transform="translate(0 0.85) scale(0.1180 0.1)" font-size="24.2">Bedroom 5</text><text transform="translate(0 3.89) scale(0.1180 0.1)" font-size="22.5">20'1&quot; x 14'3&quot;</text></g>
<g transform="translate(823 229.2)" fill="#505050" stroke="#505050" stroke-width="1.1" text-anchor="middle"><text transform="translate(0 0.85) scale(0.1180 0.1)" font-size="24.2">Closet</text><text transform="translate(0 3.89) scale(0.1180 0.1)" font-size="22.5">5'7&quot; x 7'10&quot;</text></g>
<g transform="translate(823 258.8)" fill="#505050" stroke="#505050" stroke-width="1.1" text-anchor="middle"><text transform="translate(0 0.85) scale(0.1180 0.1)" font-size="24.2">Closet</text><text transform="translate(0 3.89) scale(0.1180 0.1)" font-size="22.5">5'7&quot; x 8'0&quot;</text></g>
<g transform="translate(861.7 238.5)" fill="#3c3c3c" stroke="#3c3c3c" stroke-width="1.4" text-anchor="middle"><text transform="translate(0 1.40) scale(0.1150 0.1)" font-size="40.0">Bathroom</text></g>
<g transform="translate(861.7 265.5)" fill="#3c3c3c" stroke="#3c3c3c" stroke-width="1.4" text-anchor="middle"><text transform="translate(0 1.40) scale(0.1150 0.1)" font-size="40.0">Bathroom</text></g>
<g transform="translate(852.5 245.3)" fill="#505050" stroke="#505050" stroke-width="1.1" text-anchor="middle"><text transform="translate(0 0.73) scale(0.1180 0.1)" font-size="20.8">4'5&quot; x 5'8&quot;</text></g>
<g transform="translate(870.8 245.3)" fill="#505050" stroke="#505050" stroke-width="1.1" text-anchor="middle"><text transform="translate(0 0.73) scale(0.1180 0.1)" font-size="20.8">5'7&quot; x 5'8&quot;</text></g>
<g transform="translate(852.5 258.7)" fill="#505050" stroke="#505050" stroke-width="1.1" text-anchor="middle"><text transform="translate(0 0.73) scale(0.1180 0.1)" font-size="20.8">4'5&quot; x 5'8&quot;</text></g>
<g transform="translate(870.8 258.7)" fill="#505050" stroke="#505050" stroke-width="1.1" text-anchor="middle"><text transform="translate(0 0.73) scale(0.1180 0.1)" font-size="20.8">5'7&quot; x 5'8&quot;</text></g>
<g transform="translate(836.3 262.5) rotate(-90)" fill="#505050" stroke="#505050" stroke-width="1.1" text-anchor="middle"><text transform="translate(0 0.74) scale(0.1180 0.1)" font-size="21.2">Hall</text><text transform="translate(0 3.78) scale(0.1180 0.1)" font-size="19.5">3'1&quot; x 5'4&quot;</text></g>
<g transform="translate(909.2 288.3) rotate(-90)" fill="#3c3c3c" stroke="#3c3c3c" stroke-width="1.4" text-anchor="middle"><text transform="translate(0 1.61) scale(0.1150 0.1)" font-size="46.1">Balcony</text></g>
<g transform="translate(849.2 293)" fill="#505050" stroke="#505050" stroke-width="1.1" text-anchor="middle"><text transform="translate(0 0.85) scale(0.1180 0.1)" font-size="24.2">Bedroom 4</text><text transform="translate(0 3.89) scale(0.1180 0.1)" font-size="22.5">20'0&quot; x 15'1&quot;</text></g>
<g transform="translate(715.8 244.7)" fill="#505050" stroke="#505050" stroke-width="1.1" text-anchor="middle"><text transform="translate(0 0.85) scale(0.1180 0.1)" font-size="24.2">Hall</text><text transform="translate(0 3.89) scale(0.1180 0.1)" font-size="22.5">50'0&quot; x 7'6&quot;</text></g>
<g transform="translate(711.3 262)" fill="#505050" stroke="#505050" stroke-width="1.1" text-anchor="middle"><text transform="translate(0 0.85) scale(0.1180 0.1)" font-size="24.2">Closet</text><text transform="translate(0 4.09) scale(0.1180 0.1)" font-size="22.5">10'11&quot; x 5'10&quot;</text></g>
<g transform="translate(747.5 262)" fill="#505050" stroke="#505050" stroke-width="1.1" text-anchor="middle"><text transform="translate(0 0.85) scale(0.1180 0.1)" font-size="24.2">Closet</text><text transform="translate(0 4.09) scale(0.1180 0.1)" font-size="22.5">10'7&quot; x 5'10&quot;</text></g>
<g transform="translate(634.2 290.8)" fill="#505050" stroke="#505050" stroke-width="1.1" text-anchor="middle"><text transform="translate(0 0.85) scale(0.1180 0.1)" font-size="24.2">Bedroom 1</text><text transform="translate(0 4.09) scale(0.1180 0.1)" font-size="22.5">15'0&quot; x 19'9&quot;</text></g>
<g transform="translate(684.2 293)" fill="#505050" stroke="#505050" stroke-width="1.1" text-anchor="middle"><text transform="translate(0 0.85) scale(0.1180 0.1)" font-size="24.2">Bedroom 2</text><text transform="translate(0 3.89) scale(0.1180 0.1)" font-size="22.5">25'4&quot; x 20'0&quot;</text></g>
<g transform="translate(773.3 293)" fill="#505050" stroke="#505050" stroke-width="1.1" text-anchor="middle"><text transform="translate(0 0.85) scale(0.1180 0.1)" font-size="24.2">Bedroom 3</text><text transform="translate(0 3.89) scale(0.1180 0.1)" font-size="22.5">25'3&quot; x 20'0&quot;</text></g>
<g transform="translate(715.3 302.5) rotate(90)" fill="#3c3c3c" stroke="#3c3c3c" stroke-width="1.4" text-anchor="middle"><text transform="translate(0 1.40) scale(0.1150 0.1)" font-size="40.0">Bathroom</text></g>
<g transform="translate(743.6 302.5) rotate(90)" fill="#3c3c3c" stroke="#3c3c3c" stroke-width="1.4" text-anchor="middle"><text transform="translate(0 1.40) scale(0.1150 0.1)" font-size="40.0">Bathroom</text></g>
<g transform="translate(722.5 293.3) rotate(90)" fill="#505050" stroke="#505050" stroke-width="1.1" text-anchor="middle"><text transform="translate(0 0.71) scale(0.1180 0.1)" font-size="20.3">5'7&quot; x 5'8&quot;</text></g>
<g transform="translate(735 293.3) rotate(90)" fill="#505050" stroke="#505050" stroke-width="1.1" text-anchor="middle"><text transform="translate(0 0.71) scale(0.1180 0.1)" font-size="20.3">5'7&quot; x 5'8&quot;</text></g>
<g transform="translate(724.2 312.5) rotate(90)" fill="#505050" stroke="#505050" stroke-width="1.1" text-anchor="middle"><text transform="translate(0 0.71) scale(0.1180 0.1)" font-size="20.3">5'7&quot; x 5'8&quot;</text></g>
<g transform="translate(735 311.7) rotate(90)" fill="#505050" stroke="#505050" stroke-width="1.1" text-anchor="middle"><text transform="translate(0 0.71) scale(0.1180 0.1)" font-size="20.3">5'7&quot; x 5'8&quot;</text></g>
<g transform="translate(697.8 147)" fill="#444" stroke="#444" stroke-width="1.4" text-anchor="middle"><text transform="translate(0 1.92) scale(0.1150 0.1)" font-size="54.8">Opens to</text><text transform="translate(0 7.82) scale(0.1150 0.1)" font-size="54.8">Basketball Court</text></g>
<g transform="translate(575.6 182)" fill="#505050" stroke="#505050" stroke-width="1.1" text-anchor="middle"><text transform="translate(0 0.77) scale(0.1180 0.1)" font-size="22.0">Ladies Room</text><text transform="translate(0 4.01) scale(0.1180 0.1)" font-size="20.3">15'7&quot; x 20'4&quot;</text></g>
<g transform="translate(552 233.7) rotate(45)" fill="#3c3c3c" stroke="#3c3c3c" stroke-width="1.4" text-anchor="middle"><text transform="translate(0 1.64) scale(0.1150 0.1)" font-size="47.0">Inside Staircase</text></g>
<g transform="translate(543.6 273) rotate(-67)" fill="#505050" stroke="#505050" stroke-width="1.1" text-anchor="middle"><text transform="translate(0 0.77) scale(0.1180 0.1)" font-size="22.0">Closet</text><text transform="translate(0 3.71) scale(0.1180 0.1)" font-size="20.3">3'3&quot; x 6'4&quot;</text></g>
<g transform="translate(582 262.6) rotate(-45)" fill="#505050" stroke="#505050" stroke-width="1.1" text-anchor="middle"><text transform="translate(0 0.92) scale(0.1180 0.1)" font-size="26.3">Hall</text><text transform="translate(0 4.29) scale(0.1180 0.1)" font-size="25.4">10'3&quot; x 33'5&quot;</text></g>
<g transform="translate(605 277.2)" fill="#505050" stroke="#505050" stroke-width="1.1" text-anchor="middle"><text transform="translate(0 0.80) scale(0.1180 0.1)" font-size="22.9">Closet</text><text transform="translate(0 3.64) scale(0.1180 0.1)" font-size="21.2">5'6&quot; x 10'0&quot;</text></g>
<g transform="translate(607.2 298)" fill="#505050" stroke="#505050" stroke-width="1.1" text-anchor="middle"><text transform="translate(0 0.77) scale(0.1180 0.1)" font-size="22.0">Linen</text></g>
<g transform="translate(590 309.2)" fill="#505050" stroke="#505050" stroke-width="1.1" text-anchor="middle"><text transform="translate(0 0.80) scale(0.1180 0.1)" font-size="22.9">Bathroom</text><text transform="translate(0 3.64) scale(0.1180 0.1)" font-size="21.2">5'10&quot; x 11'4&quot;</text></g>
<g transform="translate(467.8 337.3) rotate(-45)" fill="#454545" stroke="#454545" stroke-width="1.4" text-anchor="middle"><text transform="translate(0 1.40) scale(0.1150 0.1)" font-size="40.0">Open to Below</text></g>
<g transform="translate(551.1 386.7) rotate(-45)" fill="#454545" stroke="#454545" stroke-width="1.4" text-anchor="middle"><text transform="translate(0 1.40) scale(0.1150 0.1)" font-size="40.0">Open to Below</text></g>
<g transform="translate(493 366.2) rotate(-45)" fill="#454545" stroke="#454545" stroke-width="1.4" text-anchor="middle"><text transform="translate(0 1.48) scale(0.1150 0.1)" font-size="42.2">Bridge</text><text transform="translate(0 6.23) scale(0.1150 0.1)" font-size="40.9">10'9&quot; x 87'2&quot;</text></g>
<g transform="translate(420.4 395.1) rotate(-45)" fill="#454545" stroke="#454545" stroke-width="1.4" text-anchor="middle"><text transform="translate(0 1.40) scale(0.1150 0.1)" font-size="40.0">Elevator</text></g>
<g transform="translate(380.5 436.4) rotate(-45)" fill="#454545" stroke="#454545" stroke-width="1.4" text-anchor="middle"><text transform="translate(0 1.32) scale(0.1150 0.1)" font-size="37.8">Mechanical Room</text><text transform="translate(0 6.17) scale(0.1150 0.1)" font-size="33.5">10'3&quot; x 28'0&quot;</text></g>
<g transform="translate(469.6 460) rotate(-45)" fill="#454545" stroke="#454545" stroke-width="1.4" text-anchor="middle"><text transform="translate(0 1.45) scale(0.1150 0.1)" font-size="41.3">Home Theater Room</text><text transform="translate(0 6.17) scale(0.1150 0.1)" font-size="33.5">28'1&quot; x 26'9&quot;</text></g>
<g transform="translate(423.4 510.7) rotate(-45)" fill="#454545" stroke="#454545" stroke-width="1.4" text-anchor="middle"><text transform="translate(0 1.43) scale(0.1150 0.1)" font-size="40.9">Vestibule</text><text transform="translate(0 6.22) scale(0.1150 0.1)" font-size="34.8">18'11&quot; x 19'3&quot;</text></g>
<g transform="translate(310.9 453.7) rotate(-45)" fill="#454545" stroke="#454545" stroke-width="1.4" text-anchor="middle"><text transform="translate(0 1.16) scale(0.1150 0.1)" font-size="33.0">Laundry</text><text transform="translate(0 4.66) scale(0.1150 0.1)" font-size="33.0">Room</text><text transform="translate(0 8.07) scale(0.1150 0.1)" font-size="30.4">6'0&quot; x 6'9&quot;</text></g>
<g transform="translate(464.4 553.2) rotate(-45)" fill="#454545" stroke="#454545" stroke-width="1.4" text-anchor="middle"><text transform="translate(0 1.37) scale(0.1150 0.1)" font-size="39.1">Sitting Room</text></g>
<g transform="translate(293.7 515.5)" fill="#454545" stroke="#454545" stroke-width="1.4" text-anchor="middle"><text transform="translate(0 1.28) scale(0.1150 0.1)" font-size="36.5">Master Closet</text><text transform="translate(0 6.39) scale(0.1150 0.1)" font-size="33.9">34'4&quot; x 38'10&quot;</text></g>
<g transform="translate(377.4 569.6)" fill="#454545" stroke="#454545" stroke-width="1.4" text-anchor="middle"><text transform="translate(0 1.28) scale(0.1150 0.1)" font-size="36.5">Master Bedroom</text><text transform="translate(0 5.66) scale(0.1150 0.1)" font-size="33.0">48'5&quot; x 45'4&quot;</text></g>
<g transform="translate(287.4 621.2)" fill="#333" stroke="#333" stroke-width="1.4" text-anchor="middle"><text transform="translate(0 1.84) scale(0.1150 0.1)" font-size="52.6">Master Bath</text><text transform="translate(0 8.12) scale(0.1150 0.1)" font-size="49.1">43'3&quot; x 36'0&quot;</text></g>
<g transform="translate(260 589.3)" fill="#454545" stroke="#454545" stroke-width="1.4" text-anchor="middle"><text transform="translate(0 1.32) scale(0.1150 0.1)" font-size="37.8">Master</text><text transform="translate(0 6.52) scale(0.1150 0.1)" font-size="37.8">Shower</text><text transform="translate(0 11.63) scale(0.1150 0.1)" font-size="35.2">7'5&quot; x 9'10&quot;</text></g>
<g transform="translate(303.4 589.3)" fill="#454545" stroke="#454545" stroke-width="1.4" text-anchor="middle"><text transform="translate(0 1.31) scale(0.1150 0.1)" font-size="37.4">Ms and Mrs.</text><text transform="translate(0 6.29) scale(0.1150 0.1)" font-size="37.0">Vanities</text><text transform="translate(0 11.16) scale(0.1150 0.1)" font-size="33.0">18'8&quot; x 17'1&quot;</text></g>
<g transform="translate(236.9 594) rotate(-90)" fill="#555" stroke="#555" stroke-width="1.4" text-anchor="middle"><text transform="translate(0 1.00) scale(0.1150 0.1)" font-size="28.7">Laundry</text><text transform="translate(0 4.49) scale(0.1180 0.1)" font-size="25.4">3'0&quot; x 18'2&quot;</text></g>
<g transform="translate(199.3 589.6)" fill="#777" stroke="#777" stroke-width="1.4" text-anchor="middle"><text transform="translate(0 1.02) scale(0.1150 0.1)" font-size="29.1">Exercise Room</text></g>
<g transform="translate(208.6 647.7)" fill="#777" stroke="#777" stroke-width="1.4" text-anchor="middle"><text transform="translate(0 1.02) scale(0.1150 0.1)" font-size="29.1">Exercise Room</text></g>
<g transform="translate(239 653)" fill="#454545" stroke="#454545" stroke-width="1.1" text-anchor="middle"><text transform="translate(0 0.89) scale(0.1180 0.1)" font-size="25.4">Laundry</text><text transform="translate(0 3.50) scale(0.1180 0.1)" font-size="22.9">6'1&quot; x 10'8&quot;</text></g>
<g transform="translate(262.5 651.9)" fill="#454545" stroke="#454545" stroke-width="1.4" text-anchor="middle"><text transform="translate(0 1.25) scale(0.1150 0.1)" font-size="35.7">Spa</text><text transform="translate(0 5.95) scale(0.1150 0.1)" font-size="35.7">Room</text></g>
<g transform="translate(316.3 650.7)" fill="#454545" stroke="#454545" stroke-width="1.4" text-anchor="middle"><text transform="translate(0 1.25) scale(0.1150 0.1)" font-size="35.7">Soaking</text><text transform="translate(0 5.75) scale(0.1150 0.1)" font-size="35.7">Room</text></g>
<g transform="translate(357 652.5)" fill="#454545" stroke="#454545" stroke-width="1.4" text-anchor="middle"><text transform="translate(0 1.37) scale(0.1150 0.1)" font-size="39.1">Sitting Room</text></g>
<g transform="translate(232.4 568.7)" fill="#333" stroke="#333" stroke-width="1.4" text-anchor="middle"><text transform="translate(0 1.26) scale(0.1150 0.1)" font-size="35.9">Master Staircase</text></g>
<g transform="translate(159.6 635.6)" fill="#454545" stroke="#454545" stroke-width="1.4" text-anchor="middle"><text transform="translate(0 1.03) scale(0.1150 0.1)" font-size="29.6">24'4 x 37'6</text><text transform="translate(0 6.32) scale(0.1150 0.1)" font-size="34.8">Deck</text></g>
<g transform="translate(332.3 624) rotate(-90)" fill="#454545" stroke="#454545" stroke-width="1.1" text-anchor="middle"><text transform="translate(0 0.77) scale(0.1180 0.1)" font-size="22.0">Toilet</text><text transform="translate(0 3.71) scale(0.1180 0.1)" font-size="20.3">3'5&quot; x 7'3&quot;</text></g>
</g>
<g id="chrome">
<text x="72.7" y="222.6" font-size="34.8" textLength="196.7" lengthAdjust="spacingAndGlyphs" fill="#2e2e2e">Upper Level</text>
<text x="924.9" y="654.4" font-size="7.6" textLength="95.6" lengthAdjust="spacingAndGlyphs" fill="#3a3a3a" text-anchor="middle" style='font-family:"DejaVu Sans","Liberation Sans",sans-serif'>GROSS INTERNAL AREA</text>
<text x="924.3" y="665.5" font-size="7.6" textLength="86.2" lengthAdjust="spacingAndGlyphs" fill="#3a3a3a" text-anchor="middle" style='font-family:"DejaVu Sans","Liberation Sans",sans-serif'>FLOOR 1: 11245 sq ft</text>
<text x="925" y="676.6" font-size="7.6" textLength="76.8" lengthAdjust="spacingAndGlyphs" fill="#3a3a3a" text-anchor="middle" style='font-family:"DejaVu Sans","Liberation Sans",sans-serif'>TOTAL: 11245 sq ft</text>
<text x="924.4" y="687.9" font-size="6.9" textLength="223.6" lengthAdjust="spacingAndGlyphs" fill="#b4b4b4" text-anchor="middle" style='font-family:"DejaVu Sans","Liberation Sans",sans-serif'>SIZES AND DIMENSIONS ARE APPROXIMATE, ACTUAL MAY VARY.</text>
<text x="881.3" y="732.5" font-size="24" textLength="133.1" lengthAdjust="spacingAndGlyphs" fill="#222" font-weight="bold">Matterport</text>
<text x="3.6" y="47.3" font-size="20.6" font-weight="bold" textLength="70.5" lengthAdjust="spacingAndGlyphs" fill="#fff" stroke="#8a8a8a" stroke-width="1.5" paint-order="stroke" stroke-linejoin="round">© 2025</text>
<polygon points="844.9,710.9 848.1,710.1 859,713.9 859,720.3 849.1,717.8 849.1,738.1 844.9,736.8" fill="#0a0a0a" stroke="none"/>
<polygon points="849.1,717.8 852.8,718.8 852.8,728.9 859,728.2 859,734.4 849.1,738.1" fill="#7a7a7a" stroke="none"/>
<polygon points="859,713.9 868.6,710.1 873.1,711.2 873.1,736.8 869.1,738.1 869.1,718.1 865.2,718.8 859,720.3" fill="#808080" stroke="none"/>
<polygon points="865.2,718.8 869.1,718.1 869.1,738.1 859,734.4 859,730.2 865.2,731.7" fill="#0a0a0a" stroke="none"/>
<polygon points="844.9,710.9 848.1,710.1 859,713.9 859,715.1" fill="#666" stroke="none"/>
</g>
</svg>
</body></html>
